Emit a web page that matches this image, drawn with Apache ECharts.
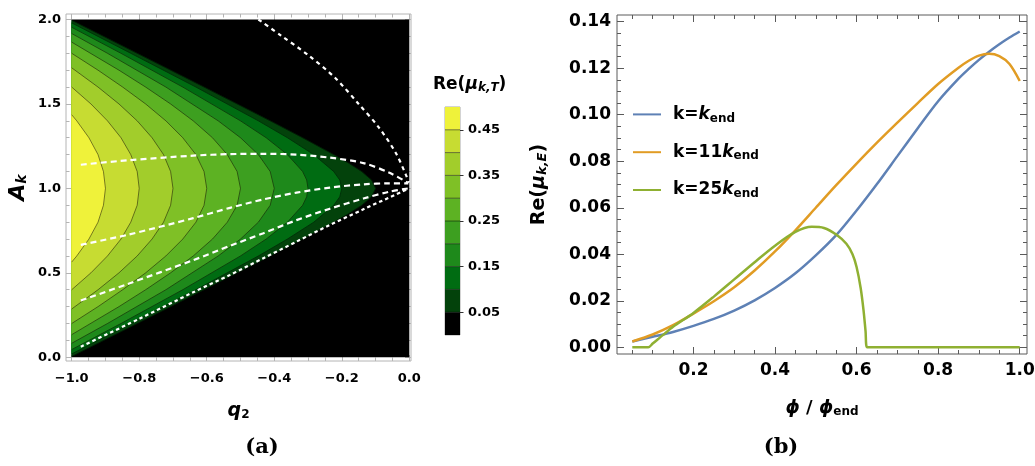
<!DOCTYPE html>
<html>
<head>
<meta charset="utf-8">
<script src="https://cdn.jsdelivr.net/npm/echarts@6.0.0/dist/echarts.min.js"></script>
<style>
  html, body { margin: 0; padding: 0; background: #ffffff; }
  #chart { width: 1035px; height: 466px; }
</style>
</head>
<body>
<div id="chart"></div>
<script>
// ---------- Panel (a): Re(mu_{k,T}) bands in the (q2, A_k) plane ----------
const contourLevels = [0.05, 0.10, 0.15, 0.20, 0.25, 0.30, 0.35, 0.40, 0.45];
const colorbarTop = 0.50;
// fill of the region above each level (0.05-0.10 ... 0.45-0.50); below 0.05 is black
const bandColors = ['#03420b', '#006c12', '#1e891b', '#3d9f20', '#5db223', '#7fc026', '#a2cd2b', '#c7dc32', '#eff23a'];
const stableColor = '#000000';
const qRange = [-1, 0];
const aRange = [0, 2];

// contour lines, listed from the top edge through the tip to the bottom edge: [q2, A_k]
const contour005 = [[-1, 1.995], [-0.806, 1.8], [-0.608, 1.6], [-0.412, 1.4], [-0.316, 1.3], [-0.224, 1.2], [-0.180, 1.15], [-0.141, 1.1], [-0.112, 1.05], [-0.1, 1.0], [-0.112, 0.95], [-0.141, 0.9], [-0.180, 0.85], [-0.224, 0.8], [-0.316, 0.7], [-0.412, 0.6], [-0.608, 0.4], [-0.806, 0.2], [-1, 0.005]];
const contour010 = [[-1, 1.98], [-0.825, 1.8], [-0.632, 1.6], [-0.447, 1.4], [-0.361, 1.3], [-0.283, 1.2], [-0.224, 1.1], [-0.206, 1.05], [-0.2, 1.0], [-0.206, 0.95], [-0.224, 0.9], [-0.283, 0.8], [-0.361, 0.7], [-0.447, 0.6], [-0.632, 0.4], [-0.825, 0.2], [-1, 0.02]];
const contour015 = [[-1, 1.954], [-0.854, 1.8], [-0.671, 1.6], [-0.5, 1.4], [-0.424, 1.3], [-0.361, 1.2], [-0.316, 1.1], [-0.304, 1.05], [-0.3, 1.0], [-0.304, 0.95], [-0.316, 0.9], [-0.361, 0.8], [-0.424, 0.7], [-0.5, 0.6], [-0.671, 0.4], [-0.854, 0.2], [-1, 0.046]];
const contour020 = [[-1, 1.917], [-0.894, 1.8], [-0.721, 1.6], [-0.566, 1.4], [-0.5, 1.3], [-0.447, 1.2], [-0.412, 1.1], [-0.4, 1.0], [-0.412, 0.9], [-0.447, 0.8], [-0.5, 0.7], [-0.566, 0.6], [-0.721, 0.4], [-0.894, 0.2], [-1, 0.083]];
const contour025 = [[-1, 1.866], [-0.860, 1.7], [-0.781, 1.6], [-0.707, 1.5], [-0.640, 1.4], [-0.583, 1.3], [-0.539, 1.2], [-0.510, 1.1], [-0.5, 1.0], [-0.510, 0.9], [-0.539, 0.8], [-0.583, 0.7], [-0.640, 0.6], [-0.707, 0.5], [-0.781, 0.4], [-0.860, 0.3], [-1, 0.134]];
const contour030 = [[-1, 1.8], [-0.922, 1.7], [-0.849, 1.6], [-0.781, 1.5], [-0.721, 1.4], [-0.671, 1.3], [-0.632, 1.2], [-0.608, 1.1], [-0.6, 1.0], [-0.608, 0.9], [-0.632, 0.8], [-0.671, 0.7], [-0.721, 0.6], [-0.781, 0.5], [-0.849, 0.4], [-0.922, 0.3], [-1, 0.2]];
const contour035 = [[-1, 1.714], [-0.922, 1.6], [-0.860, 1.5], [-0.806, 1.4], [-0.762, 1.3], [-0.728, 1.2], [-0.707, 1.1], [-0.7, 1.0], [-0.707, 0.9], [-0.728, 0.8], [-0.762, 0.7], [-0.806, 0.6], [-0.860, 0.5], [-0.922, 0.4], [-1, 0.286]];
const contour040 = [[-1, 1.6], [-0.943, 1.5], [-0.894, 1.4], [-0.854, 1.3], [-0.825, 1.2], [-0.806, 1.1], [-0.8, 1.0], [-0.806, 0.9], [-0.825, 0.8], [-0.854, 0.7], [-0.894, 0.6], [-0.943, 0.5], [-1, 0.4]];
const contour045 = [[-1, 1.436], [-0.985, 1.4], [-0.949, 1.3], [-0.922, 1.2], [-0.906, 1.1], [-0.9, 1.0], [-0.906, 0.9], [-0.922, 0.8], [-0.949, 0.7], [-0.985, 0.6], [-1, 0.564]];
const contourPaths = [contour005, contour010, contour015, contour020, contour025, contour030, contour035, contour040, contour045];

// white dashed tracks across the (q2, A_k) plane
const trackHigh  = [[-0.973, 1.140], [-0.837, 1.166], [-0.640, 1.194], [-0.531, 1.203], [-0.440, 1.205], [-0.334, 1.200], [-0.235, 1.182], [-0.136, 1.150], [-0.057, 1.091], [-0.003, 1.032]];
const trackMid   = [[-0.973, 0.666], [-0.837, 0.724], [-0.640, 0.824], [-0.531, 0.885], [-0.432, 0.935], [-0.334, 0.975], [-0.235, 1.005], [-0.136, 1.024], [-0.060, 1.030], [-0.003, 1.030]];
const trackLow   = [[-0.973, 0.336], [-0.837, 0.432], [-0.640, 0.575], [-0.531, 0.660], [-0.432, 0.735], [-0.334, 0.812], [-0.235, 0.880], [-0.136, 0.940], [-0.060, 0.980], [-0.003, 1.000]];
const trackEdge  = [[-0.973, 0.063], [-0.800, 0.228], [-0.640, 0.385], [-0.531, 0.488], [-0.432, 0.587], [-0.334, 0.685], [-0.235, 0.784], [-0.136, 0.876], [-0.003, 0.998]];
const trackSteep = [[-0.447, 2.000], [-0.380, 1.905], [-0.300, 1.790], [-0.220, 1.655], [-0.150, 1.500], [-0.090, 1.360], [-0.040, 1.210], [-0.010, 1.080], [-0.001, 1.035]];

const qMajorTicks = [-1.0, -0.8, -0.6, -0.4, -0.2, 0.0];
const qMinorTicks = [-1.0, -0.95, -0.9, -0.85, -0.8, -0.75, -0.7, -0.65, -0.6, -0.55, -0.5, -0.45, -0.4, -0.35, -0.3, -0.25, -0.2, -0.15, -0.1, -0.05, 0.0];
const aMajorTicks = [0.0, 0.5, 1.0, 1.5, 2.0];
const aMinorTicks = [0.0, 0.1, 0.2, 0.3, 0.4, 0.5, 0.6, 0.7, 0.8, 0.9, 1.0, 1.1, 1.2, 1.3, 1.4, 1.5, 1.6, 1.7, 1.8, 1.9, 2.0];
const colorbarTicks = [0.05, 0.15, 0.25, 0.35, 0.45];

// ---------- Panel (b): Re(mu_{k,E}) against phi / phi_end ----------
const phi = [0.05, 0.10, 0.15, 0.20, 0.25, 0.30, 0.35, 0.40, 0.45, 0.50, 0.55, 0.60, 0.65, 0.70, 0.75, 0.80, 0.85, 0.875, 0.90, 0.925, 0.95, 0.975, 1.00];
const rateK1  = [0.0025, 0.0045, 0.0066, 0.0092, 0.0122, 0.0158, 0.0202, 0.0255, 0.0318, 0.0395, 0.0482, 0.0588, 0.0702, 0.0822, 0.0942, 0.1058, 0.1155, 0.1197, 0.1236, 0.1271, 0.1303, 0.1332, 0.1358];
const rateK11 = [0.0025, 0.0055, 0.0095, 0.0145, 0.0198, 0.0258, 0.0330, 0.0412, 0.0503, 0.0600, 0.0697, 0.0790, 0.0880, 0.0966, 0.1050, 0.1132, 0.1202, 0.1232, 0.1254, 0.1262, 0.1252, 0.1218, 0.1145];
const phiK25  = [0.05, 0.089, 0.10, 0.13, 0.15, 0.20, 0.25, 0.30, 0.35, 0.40, 0.45, 0.49, 0.52, 0.55, 0.575, 0.59, 0.60, 0.61, 0.617, 0.622, 0.626, 0.70, 0.80, 0.90, 1.00];
const rateK25 = [0, 0, 0.0016, 0.0060, 0.0088, 0.0148, 0.0218, 0.0292, 0.0366, 0.0437, 0.0496, 0.0518, 0.0513, 0.0485, 0.0445, 0.0400, 0.0345, 0.0255, 0.0160, 0.0070, 0, 0, 0, 0, 0];
const seriesNames = ['k=kend', 'k=11kend', 'k=25kend'];
const seriesColors = ['#5e81b5', '#e19c24', '#8fb032'];

const phiMajorTicks = [0.2, 0.4, 0.6, 0.8, 1.0];
const phiMinorTicks = [0.05, 0.1, 0.15, 0.2, 0.25, 0.3, 0.35, 0.4, 0.45, 0.5, 0.55, 0.6, 0.65, 0.7, 0.75, 0.8, 0.85, 0.9, 0.95, 1.0];
const rateMajorTicks = [0, 0.02, 0.04, 0.06, 0.08, 0.10, 0.12, 0.14];
const rateMinorTicks = [0, 0.005, 0.01, 0.015, 0.02, 0.025, 0.03, 0.035, 0.04, 0.045, 0.05, 0.055, 0.06, 0.065, 0.07, 0.075, 0.08, 0.085, 0.09, 0.095, 0.10, 0.105, 0.11, 0.115, 0.12, 0.125, 0.13, 0.135, 0.14];

// axis windows (include the small margin between frame and data)
const qAxisRange = [-1.0169, 0.0050];
const aAxisRange = [-0.0219, 2.0326];
const phiAxisRange = [0.0125, 1.0179];
const rateAxisRange = [-0.00288, 0.14288];

// ---------- styling helpers ----------
const FONT = "'DejaVu Sans', sans-serif";
const BOLD = { fontFamily: FONT, fontWeight: 'bold', color: '#000' };
function richSet(size, subSize, drop, lh) {
  return {
    r:  Object.assign({}, BOLD, { fontSize: size, lineHeight: lh }),
    i:  Object.assign({}, BOLD, { fontStyle: 'italic', fontSize: size, lineHeight: lh }),
    p:  Object.assign({}, BOLD, { fontSize: size, lineHeight: lh, padding: [0, 0, 0, 7] }),
    s:  Object.assign({}, BOLD, { fontSize: subSize, padding: [drop, 0, 0, 0] }),
    si: Object.assign({}, BOLD, { fontStyle: 'italic', fontSize: subSize, padding: [drop, 0, 0, 0] })
  };
}
const signed1 = v => (v < 0 ? '\u2212' : '') + Math.abs(v).toFixed(1);
const fixed1 = v => v.toFixed(1);
const fixed2 = v => v.toFixed(2);

function axis(o) {
  return {
    type: 'value', gridIndex: o.grid, position: o.pos, min: o.range[0], max: o.range[1],
    axisLine: { show: false, onZero: false }, splitLine: { show: false }, splitArea: { show: false },
    axisTick: { show: true, inside: o.inside !== false, length: o.len, customValues: o.ticks,
                lineStyle: { color: o.color, width: 1 } },
    axisLabel: o.labels ? { show: true, customValues: o.labels, formatter: o.fmt, margin: o.margin,
                            fontFamily: FONT, fontWeight: 'bold', fontSize: o.fontSize, color: '#000' }
                        : { show: false },
    name: o.name || '', nameLocation: 'middle', nameGap: o.nameGap || 0, nameRotate: o.nameRotate || 0,
    nameTextStyle: o.name ? { rich: o.rich } : undefined
  };
}

const frameA = '#b4b4b4';
const frameB = '#5a5a5a';

const xAxes = [
  axis({ grid: 0, pos: 'bottom', range: qAxisRange, len: 6, ticks: qMajorTicks, color: frameA, labels: qMajorTicks, fmt: signed1, margin: 11, fontSize: 13,
         name: '{i|q}{s|2}', nameGap: 38, rich: richSet(19, 12, 8, 24) }),
  axis({ grid: 0, pos: 'bottom', range: qAxisRange, len: 3.5, ticks: qMinorTicks, color: frameA }),
  axis({ grid: 0, pos: 'top', range: qAxisRange, len: 6, ticks: qMajorTicks, color: frameA }),
  axis({ grid: 0, pos: 'top', range: qAxisRange, len: 3.5, ticks: qMinorTicks, color: frameA }),
  axis({ grid: 1, pos: 'bottom', range: phiAxisRange, len: 7, ticks: phiMajorTicks, color: frameB, labels: phiMajorTicks, fmt: fixed1, margin: 8, fontSize: 17,
         name: '{i|\u03d5}{r| / }{i|\u03d5}{s|end}', nameGap: 43, rich: richSet(18, 12, 8, 22) }),
  axis({ grid: 1, pos: 'bottom', range: phiAxisRange, len: 4, ticks: phiMinorTicks, color: frameB }),
  axis({ grid: 1, pos: 'top', range: phiAxisRange, len: 7, ticks: phiMajorTicks, color: frameB }),
  axis({ grid: 1, pos: 'top', range: phiAxisRange, len: 4, ticks: phiMinorTicks, color: frameB }),
  { type: 'value', gridIndex: 2, min: 0, max: 1, show: false }
];
const yAxes = [
  axis({ grid: 0, pos: 'left', range: aAxisRange, len: 6, ticks: aMajorTicks, color: frameA, labels: aMajorTicks, fmt: fixed1, margin: 5, fontSize: 13,
         name: '{i|A}{si|k}', nameGap: 35, nameRotate: 90, rich: richSet(22, 14, 9, 26) }),
  axis({ grid: 0, pos: 'left', range: aAxisRange, len: 3.5, ticks: aMinorTicks, color: frameA }),
  axis({ grid: 0, pos: 'right', range: aAxisRange, len: 6, ticks: aMajorTicks, color: frameA }),
  axis({ grid: 0, pos: 'right', range: aAxisRange, len: 3.5, ticks: aMinorTicks, color: frameA }),
  axis({ grid: 1, pos: 'left', range: rateAxisRange, len: 7, ticks: rateMajorTicks, color: frameB, labels: rateMajorTicks, fmt: fixed2, margin: 6, fontSize: 17,
         name: '{r|Re(}{i|\u03bc}{si|k,E}{r|)}', nameGap: 66, nameRotate: 90, rich: richSet(19, 13, 8, 24) }),
  axis({ grid: 1, pos: 'left', range: rateAxisRange, len: 4, ticks: rateMinorTicks, color: frameB }),
  axis({ grid: 1, pos: 'right', range: rateAxisRange, len: 7, ticks: rateMajorTicks, color: frameB }),
  axis({ grid: 1, pos: 'right', range: rateAxisRange, len: 4, ticks: rateMinorTicks, color: frameB }),
  axis({ grid: 2, pos: 'right', range: [0, colorbarTop], len: 3.5, inside: false, ticks: colorbarTicks, color: '#333', labels: colorbarTicks, fmt: fixed2, margin: 8, fontSize: 13 })
];

// ---------- series ----------
const stableSeries = {
  type: 'custom', xAxisIndex: 0, yAxisIndex: 0, silent: true, z: 1,
  data: [[qRange[0], aRange[0], qRange[1], aRange[1]]],
  renderItem(params, api) {
    const p0 = api.coord([api.value(0), api.value(3)]);
    const p1 = api.coord([api.value(2), api.value(1)]);
    return { type: 'rect', shape: { x: p0[0], y: p0[1], width: p1[0] - p0[0], height: p1[1] - p0[1] }, style: { fill: stableColor } };
  }
};

const bandSeries = {
  type: 'custom', xAxisIndex: 0, yAxisIndex: 0, silent: true, z: 2,
  data: contourPaths.map(path => path[Math.floor(path.length / 2)]),
  renderItem(params, api) {
    const pts = contourPaths[params.dataIndex].map(p => api.coord(p));
    const fill = bandColors[params.dataIndex];
    return {
      type: 'group',
      children: [
        { type: 'polygon', shape: { points: pts }, style: { fill: fill, stroke: fill, lineWidth: 0.6 } },
        { type: 'polyline', shape: { points: pts }, style: { fill: null, stroke: 'rgba(0,0,0,0.55)', lineWidth: 0.9 } }
      ]
    };
  }
};

function trackSeries(data, dash) {
  return {
    type: 'line', xAxisIndex: 0, yAxisIndex: 0, data: data, symbol: 'none', smooth: 0.3, silent: true, z: 3,
    lineStyle: { color: '#ffffff', width: 2.2, type: dash, cap: 'butt' }
  };
}

const colorbarLows = [0].concat(contourLevels);
const colorbarHighs = contourLevels.concat([colorbarTop]);
const colorbarFills = [stableColor].concat(bandColors);
const colorbarSeries = {
  type: 'custom', xAxisIndex: 8, yAxisIndex: 8, silent: true, z: 2,
  data: colorbarLows.map((lo, i) => [lo, colorbarHighs[i]]),
  renderItem(params, api) {
    const lo = api.value(0), hi = api.value(1);
    const p0 = api.coord([0, hi]);
    const p1 = api.coord([1, lo]);
    const kids = [{ type: 'rect', shape: { x: p0[0], y: p0[1], width: p1[0] - p0[0], height: p1[1] - p0[1] },
                    style: { fill: colorbarFills[params.dataIndex] } }];
    if (params.dataIndex > 0) {
      kids.push({ type: 'line', shape: { x1: p0[0], y1: p1[1], x2: p1[0], y2: p1[1] },
                  style: { stroke: 'rgba(0,0,0,0.5)', lineWidth: 1 } });
    }
    return { type: 'group', children: kids };
  }
};

function rateSeries(idx, xs, ys) {
  return {
    name: seriesNames[idx], type: 'line', xAxisIndex: 4, yAxisIndex: 4,
    data: xs.map((x, i) => [x, ys[i]]), symbol: 'none', smooth: 0.3, z: 3 + idx,
    color: seriesColors[idx], lineStyle: { color: seriesColors[idx], width: 2.5 }
  };
}

const legendText = {
  'k=kend': '{p|k=}{i|k}{s|end}',
  'k=11kend': '{p|k=11}{i|k}{s|end}',
  'k=25kend': '{p|k=25}{i|k}{s|end}'
};

const option = {
  animation: false,
  backgroundColor: '#ffffff',
  grid: [
    { left: 66, top: 14, width: 345, height: 347, show: true, borderColor: frameA, borderWidth: 1, backgroundColor: 'transparent', outerBoundsMode: 'none' },
    { left: 617, top: 15, width: 410, height: 339, show: true, borderColor: frameB, borderWidth: 1, backgroundColor: 'transparent', outerBoundsMode: 'none' },
    { left: 445, top: 107, width: 15, height: 228, show: true, borderColor: '#a8a8a8', borderWidth: 1, backgroundColor: 'transparent', outerBoundsMode: 'none' }
  ],
  xAxis: xAxes,
  yAxis: yAxes,
  legend: {
    data: seriesNames, orient: 'vertical', left: 632, top: 104, padding: 0,
    itemWidth: 28, itemHeight: 26, itemGap: 17, selectedMode: false,
    itemStyle: { opacity: 0 },
    formatter: name => legendText[name],
    textStyle: { rich: richSet(17, 12, 8, 26) }
  },
  graphic: [
    { type: 'text', left: 433, top: 76, silent: true,
      style: { text: '{r|Re(}{i|\u03bc}{si|k,T}{r|)}', rich: richSet(17, 12, 7, 22) } },
    { type: 'text', x: 262, y: 448, silent: true,
      style: { text: '(a)', fontFamily: "'DejaVu Serif', serif", fontWeight: 'bold', fontSize: 21, fill: '#000', align: 'center', verticalAlign: 'middle' } },
    { type: 'text', x: 781, y: 448, silent: true,
      style: { text: '(b)', fontFamily: "'DejaVu Serif', serif", fontWeight: 'bold', fontSize: 21, fill: '#000', align: 'center', verticalAlign: 'middle' } }
  ],
  series: [
    stableSeries,
    bandSeries,
    trackSeries(trackHigh, [6, 4]),
    trackSeries(trackMid, [6, 4]),
    trackSeries(trackLow, [6, 4]),
    trackSeries(trackEdge, [3.5, 3]),
    trackSeries(trackSteep, [4, 4]),
    colorbarSeries,
    rateSeries(0, phi, rateK1),
    rateSeries(1, phi, rateK11),
    rateSeries(2, phiK25, rateK25)
  ]
};

const chart = echarts.init(document.getElementById('chart'), null, { renderer: 'canvas' });
chart.setOption(option);
</script>
</body>
</html>
